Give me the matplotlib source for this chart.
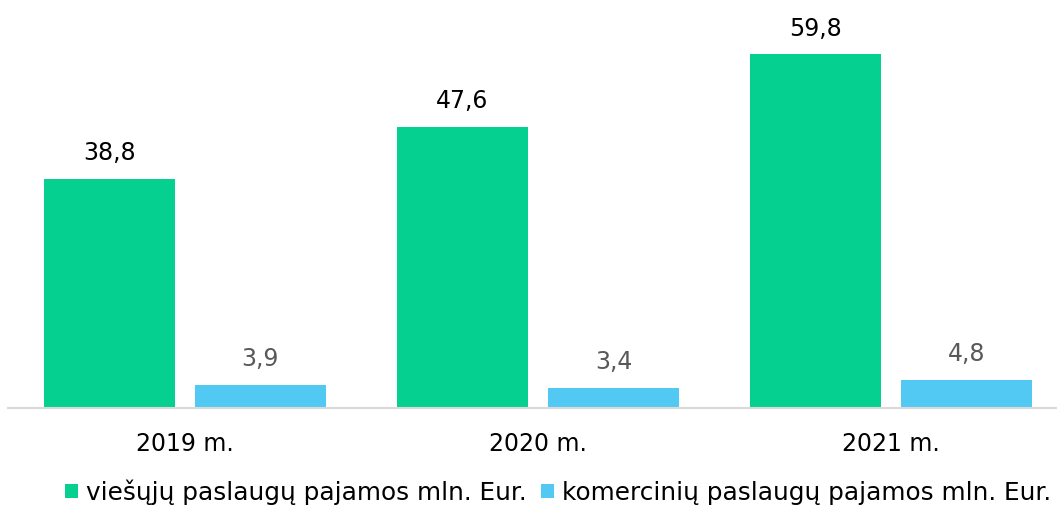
import matplotlib
matplotlib.use("Agg")
import matplotlib.pyplot as plt
import numpy as np
from matplotlib.patches import Patch

categories = ["2019 m.", "2020 m.", "2021 m."]
public_vals = [38.8, 47.6, 59.8]
commercial_vals = [3.9, 3.4, 4.8]
series_names = ["viešųjų paslaugų pajamos mln. Eur.", "komercinių paslaugų pajamos mln. Eur."]
colors = ["#05D08F", "#52C9F2"]

plt.rcParams['font.family'] = ['DejaVu Sans']
W, H = 1057, 514
fig = plt.figure(figsize=(W / 100, H / 100), dpi=100)
ax = fig.add_axes([8 / W, (H - 408) / H, 1060 / W, 408 / H])

x = np.arange(len(categories))
bw = 131 / 353
gap = 20 / 353
off = (bw + gap) / 2
b1 = ax.bar(x - off, public_vals, bw, color=colors[0])
b2 = ax.bar(x + off, commercial_vals, bw, color=colors[1])

for rect, v in zip(b1, public_vals):
    ax.annotate(f"{v:.1f}".replace(".", ","), (rect.get_x() + rect.get_width() / 2, v),
                xytext=(0, 10), textcoords="offset points", ha="center", va="bottom",
                fontsize=17, color="#000000")
for rect, v in zip(b2, commercial_vals):
    ax.annotate(f"{v:.1f}".replace(".", ","), (rect.get_x() + rect.get_width() / 2, v),
                xytext=(0, 10), textcoords="offset points", ha="center", va="bottom",
                fontsize=17, color="#595959")

ax.set_xlim(-0.5, 2.5)
ax.set_ylim(0, 69)
ax.set_xticks(x)
ax.set_xticklabels(categories, fontsize=17)
ax.tick_params(axis="x", length=0, pad=17)
ax.set_yticks([])
for s in ["top", "right", "left"]:
    ax.spines[s].set_visible(False)
ax.spines["bottom"].set_color("#D9D9D9")
ax.spines["bottom"].set_linewidth(1.5)

handles = [Patch(facecolor=c, edgecolor="none") for c in colors]
fig.legend(handles, series_names, loc="center", bbox_to_anchor=(558 / W, 1 - 492 / H),
           ncol=2, frameon=False, fontsize=17.8, handlelength=0.53, handleheight=0.53,
           handletextpad=0.32, columnspacing=0.55)

fig.savefig("out.png", dpi=100)
